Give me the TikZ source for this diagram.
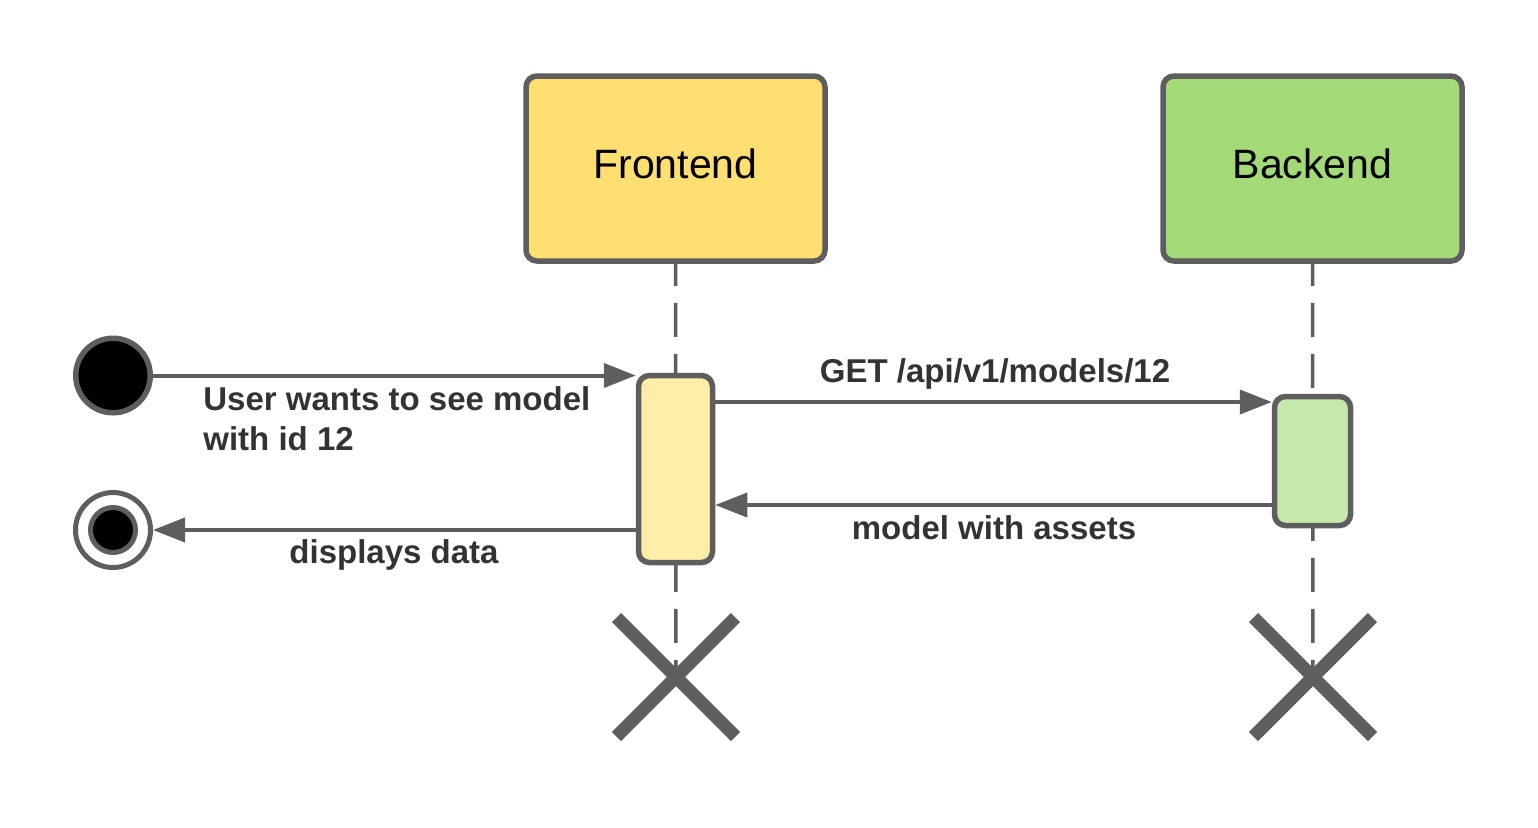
\documentclass[tikz,border=0pt]{standalone}
\usepackage{fontspec}
\setmainfont{Liberation Sans}
\usetikzlibrary{arrows.meta,shapes.misc}
\definecolor{edge}{HTML}{5E5E5E}
\definecolor{txt}{HTML}{333333}
\definecolor{feFill}{HTML}{FFDF71}
\definecolor{feAct}{HTML}{FFEDA8}
\definecolor{beFill}{HTML}{A3D977}
\definecolor{beAct}{HTML}{C7E8AC}
\tikzset{
  actor/.style={draw=edge, line width=2.75pt, rounded corners=5.5pt, minimum width=149.5pt, minimum height=92.5pt, font=\fontsize{20.5}{24}\selectfont, text=black, text depth=5pt},
  actbox/.style={draw=edge, line width=2.75pt, rounded corners=5.5pt, inner sep=0pt},
  life/.style={draw=edge, line width=1.75pt, dash pattern=on 17pt off 8.5pt, dash phase=6pt},
  msg/.style={draw=edge, line width=2pt, -{Triangle[length=16pt,width=12pt]}},
  lbl/.style={text=txt, font=\bfseries\fontsize{16.5}{20}\selectfont, inner sep=0pt},
  xmark/.style={cross out, draw=edge, line width=6.5pt, minimum size=59.5pt, inner sep=0pt, outer sep=0pt},
}
\begin{document}
\begin{tikzpicture}[x=0.5pt,y=-0.5pt]
\useasboundingbox (0,0) rectangle (1538,827);
% actors
\node[actor, fill=feFill] (fe) at (675.5,168.5) {Frontend};
\node[actor, fill=beFill] (be) at (1312.5,168.5) {Backend};
% destruction marks
\node[xmark] (fx) at (676,677) {};
\node[xmark] (bx) at (1313,677) {};
% lifelines
\draw[life] (fe.south) -- (fx.center);
\draw[life] (be.south) -- (bx.center);
% activations
\node[actbox, fill=feAct, minimum width=37pt, minimum height=93.5pt] (fa) at (675.5,469) {};
\node[actbox, fill=beAct, minimum width=38pt, minimum height=64.5pt] (ba) at (1312.5,461) {};
% start / end
\node[circle, draw=edge, fill=black, line width=2.75pt, minimum size=37.25pt, inner sep=0pt] (st) at (113,375.5) {};
\node[circle, draw=edge, fill=white, line width=2.5pt, minimum size=37.5pt, inner sep=0pt] (en) at (113,530) {};
\node[circle, draw=edge, fill=black, line width=2.5pt, minimum size=22.5pt, inner sep=0pt] (eni) at (113,530) {};
% message rows
\coordinate (y1) at (0,402);
\coordinate (y2) at (0,505);
\coordinate (y3) at (0,530);
% messages
\draw[msg] (st.east) -- (fa.west |- st.east);
\draw[msg] (fa.east |- y1) -- (ba.west |- y1);
\draw[msg] (ba.west |- y2) -- (fa.east |- y2);
\draw[msg] (fa.west |- y3) -- (en.east);
% labels
\node[lbl, anchor=north west, align=left] (l1) at (203,386) {User wants to see model\\with id 12};
\node[lbl, anchor=base] (l2) at (995,382) {GET /api/v1/models/12};
\node[lbl, anchor=base] (l3) at (994,539) {model with assets};
\node[lbl, anchor=base] (l4) at (394,563) {displays data};
\end{tikzpicture}
\end{document}
